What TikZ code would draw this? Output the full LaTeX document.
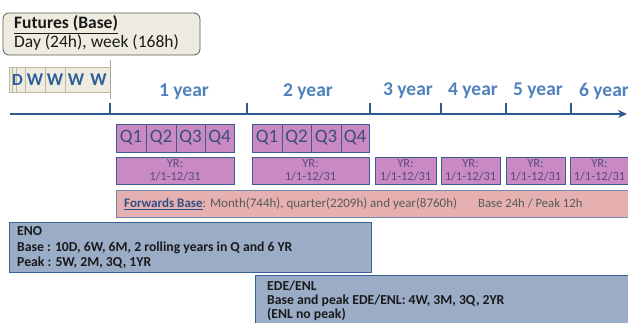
\documentclass[tikz,border=0pt]{standalone}
\usepackage{fontspec}
\setmainfont{Carlito}
\usetikzlibrary{arrows.meta}
\definecolor{axisblue}{HTML}{2F5A8F}
\definecolor{yearblue}{HTML}{4F81BD}
\definecolor{wtext}{HTML}{2F5F98}
\definecolor{beige}{HTML}{EEECE1}
\definecolor{beigeedge}{HTML}{BFB99A}
\definecolor{futedge}{HTML}{5A5A5A}
\definecolor{qfill}{HTML}{C98AC4}
\definecolor{qedge}{HTML}{3E5D8E}
\definecolor{qtext}{HTML}{3C4D78}
\definecolor{yrtext}{HTML}{5A4A7E}
\definecolor{fwfill}{HTML}{E6B0B0}
\definecolor{fwedge}{HTML}{6F88B0}
\definecolor{fwtitle}{HTML}{2F4F88}
\definecolor{fwtext}{HTML}{595959}
\definecolor{enofill}{HTML}{9AACC6}
\definecolor{enoedge}{HTML}{3A6296}
\definecolor{darktext}{HTML}{1A1A1A}
\tikzset{
  box/.style={draw, inner sep=0pt, outer sep=0pt, anchor=north west},
  wbox/.style={box, fill=beige, draw=beigeedge, line width=0.6pt, text=wtext, font=\fontsize{18}{18}\selectfont\bfseries},
  qbox/.style={box, fill=qfill, draw=qedge, line width=1pt, text=qtext, font=\fontsize{19}{19}\selectfont},
  yrbox/.style={box, fill=qfill, draw=qedge, line width=1pt, text=yrtext, align=center, font=\fontsize{12.5}{13}\selectfont},
  yearlabel/.style={text=yearblue, font=\fontsize{19.5}{19.5}\selectfont\bfseries, inner sep=0pt},
  tickmark/.style={draw=axisblue, line width=1.3pt},
  bodytext/.style={anchor=north west, inner sep=0pt, align=left, font=\fontsize{13.7}{15.5}\selectfont\bfseries, text=darktext},
}
\begin{document}
\begin{tikzpicture}[x=1pt,y=-1pt]
\useasboundingbox (0,0) rectangle (628,322);
\clip (0,0) rectangle (628,322);
% Futures box
\node[box, fill=beige, draw=futedge, line width=0.8pt, rounded corners=6pt,
      minimum width=197, minimum height=42] (fut) at (3,13) {};
\node[anchor=west, inner sep=0pt, text=darktext, font=\fontsize{17.5}{18}\selectfont\bfseries] (futt) at (14,24.5) {\underline{Futures (Base)}};
\node[anchor=west, inner sep=0pt, text=darktext, font=\fontsize{17.5}{18}\selectfont] (futd) at (14,43) {Day (24h), week (168h)};
% D / W boxes
\node[wbox, minimum width=3, minimum height=25] (d1) at (9,67) {};
\node[wbox, minimum width=4, minimum height=25] (d2) at (12,67) {};
\node[wbox, minimum width=9, minimum height=25] (d3) at (16,67) {};
\node[text=wtext, font=\fontsize{17}{17}\selectfont\bfseries, inner sep=0pt] (dl) at (17.5,80) {D};
\node[wbox, minimum width=20, minimum height=25] (w1) at (25,67) {W};
\node[wbox, minimum width=20, minimum height=25] (w2) at (45,67) {W};
\node[wbox, minimum width=22, minimum height=25] (w3) at (65,67) {W};
\node[wbox, minimum width=23, minimum height=25, draw=none] (w4) at (87,67) {W};
\draw[beigeedge, line width=0.6pt] (w4.north west) -- (w4.north east);
\draw[beigeedge, line width=0.6pt] (w4.south west) -- (w4.south east);
\coordinate (vtop) at (110,60);
\coordinate (vbot) at (110,99);
\draw[gray!70, line width=0.6pt] (vtop) -- (vbot);
% axis
\coordinate (axL) at (10,114);
\coordinate (axR) at (627,114);
\draw[axisblue, line width=2.2pt, -{Stealth[length=9pt,width=8pt]}] (axL) -- (axR);
\foreach \x/\n in {110/t1,247/t2,370/t3,441/t4,506/t5,571/t6}{
  \coordinate (\n a) at (\x,103);
  \coordinate (\n b) at (\x,114);
  \draw[tickmark] (\n a) -- (\n b);
}
\node[yearlabel] (y1) at (184,92) {1 year};
\node[yearlabel] (y2) at (308,92) {2 year};
\node[yearlabel] (y3) at (408,91) {3 year};
\node[yearlabel] (y4) at (473,91) {4 year};
\node[yearlabel] (y5) at (538,91) {5 year};
\node[yearlabel] (y6) at (604,91) {6 year};
% Quarters
\node[qbox, minimum width=30, minimum height=28] (a1) at (116,124) {Q1};
\node[qbox, minimum width=30, minimum height=28] (a2) at (146,124) {Q2};
\node[qbox, minimum width=29, minimum height=28] (a3) at (176,124) {Q3};
\node[qbox, minimum width=29, minimum height=28] (a4) at (205,124) {Q4};
\node[qbox, minimum width=30, minimum height=28] (b1) at (252,124) {Q1};
\node[qbox, minimum width=29, minimum height=28] (b2) at (282,124) {Q2};
\node[qbox, minimum width=30, minimum height=28] (b3) at (311,124) {Q3};
\node[qbox, minimum width=28, minimum height=28] (b4) at (341,124) {Q4};
% YR boxes
\node[yrbox, minimum width=118, minimum height=27] (yr1) at (116,157) {YR:\\1/1-12/31};
\node[yrbox, minimum width=117, minimum height=27] (yr2) at (252,157) {YR:\\1/1-12/31};
\node[yrbox, minimum width=61, minimum height=27] (yr3) at (375,157) {YR:\\1/1-12/31};
\node[yrbox, minimum width=59, minimum height=27] (yr4) at (441,157) {YR:\\1/1-12/31};
\node[yrbox, minimum width=59, minimum height=27] (yr5) at (506,157) {YR:\\1/1-12/31};
\node[yrbox, minimum width=59, minimum height=27] (yr6) at (570,157) {YR:\\1/1-12/31};
% Forwards
\node[box, fill=fwfill, draw=fwedge, line width=1pt, minimum width=520, minimum height=27] (fw) at (116,190) {};
\node[anchor=west, inner sep=0pt, font=\fontsize{13}{13}\selectfont, text=fwtext] (fwt) at (124,203.5)
  {\textcolor{fwtitle}{\textbf{\underline{Forwards Base}}}: Month(744h), quarter(2209h) and year(8760h)};
\node[anchor=west, inner sep=0pt, font=\fontsize{12.7}{12.7}\selectfont, text=fwtext] (fwb) at (478,203.5) {Base 24h / Peak 12h};
% ENO
\node[box, fill=enofill, draw=enoedge, line width=1pt, minimum width=362, minimum height=50] (eno) at (9,222) {};
\node[bodytext] (enot) at (17,226.5)
  {ENO\\Base : 10D, 6W, 6M, 2 rolling years in Q and 6 YR\\Peak : 5W, 2M, 3Q, 1YR};
% EDE/ENL
\node[box, fill=enofill, draw=enoedge, line width=1pt, minimum width=390, minimum height=60] (ede) at (255,275) {};
\node[bodytext, font=\fontsize{13.7}{13.6}\selectfont\bfseries] (edet) at (267,281)
  {EDE/ENL\\Base and peak EDE/ENL: 4W, 3M, 3Q, 2YR\\(ENL no peak)};
\end{tikzpicture}
\end{document}
